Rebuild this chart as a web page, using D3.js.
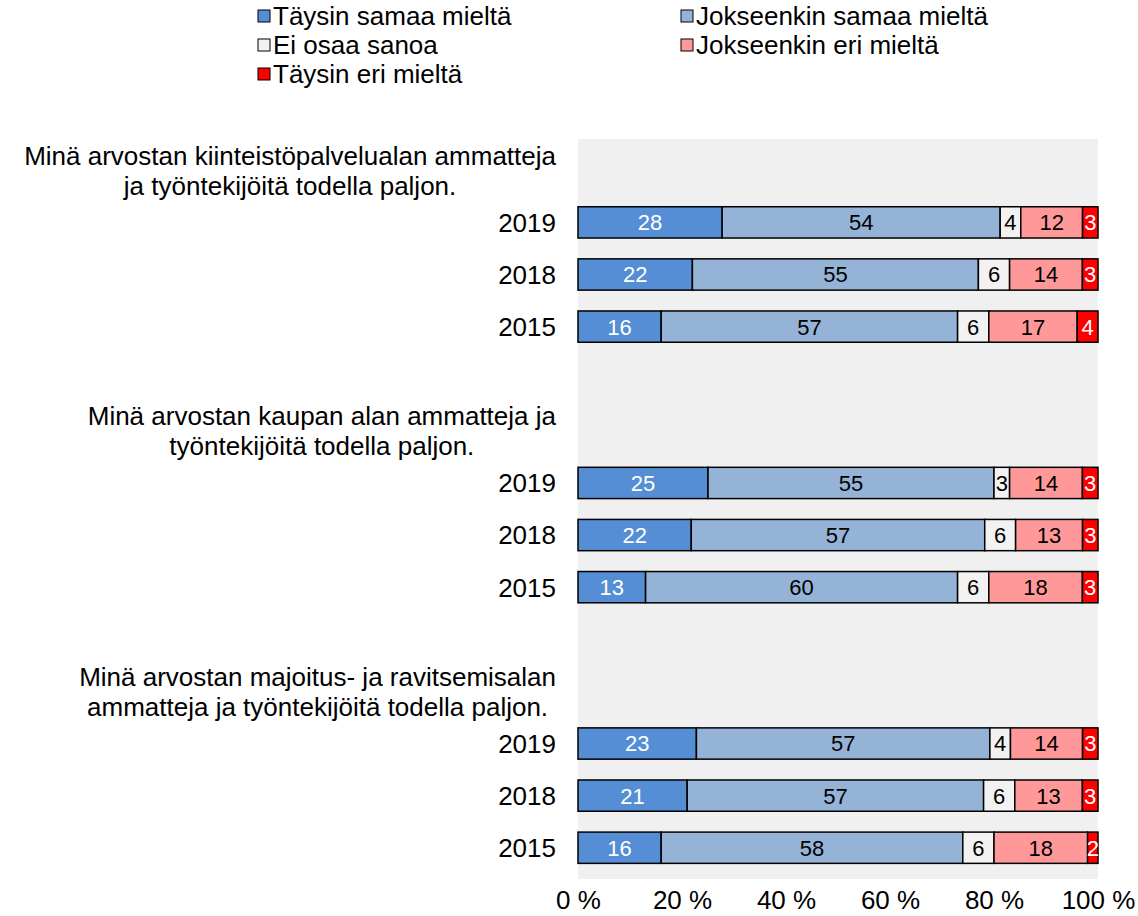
<!DOCTYPE html>
<html>
<head>
<meta charset="utf-8">
<script src="https://cdn.jsdelivr.net/npm/d3@7/dist/d3.min.js"></script>
<style>
  body { margin: 0; background: #fff; }
  svg text { font-family: Arial, "Liberation Sans", sans-serif; fill: #000; }
</style>
</head>
<body>
<svg id="chart" width="1138" height="916"></svg>
<script>
// answer categories (stack order, left to right)
var series = ["Täysin samaa mieltä", "Jokseenkin samaa mieltä", "Ei osaa sanoa",
              "Jokseenkin eri mieltä", "Täysin eri mieltä"];
var seriesColors = ["#558ED5", "#95B3D7", "#F2F2F2", "#FF9999", "#FF0000"];
var labelColors = ["#fff", "#000", "#000", "#000", "#fff"];

// statements, each split in two lines like in the original
var statements = [
    ["Minä arvostan kiinteistöpalvelualan ammatteja", "ja työntekijöitä todella paljon."],
    ["Minä arvostan kaupan alan ammatteja ja", "työntekijöitä todella paljon."],
    ["Minä arvostan majoitus- ja ravitsemisalan", "ammatteja ja työntekijöitä todella paljon."]
];
var years = ["2019", "2018", "2015"];

// values per year (2019, 2018, 2015), one number per answer category
var kiinteisto = [[28, 54, 4, 12, 3], [22, 55, 6, 14, 3], [16, 57, 6, 17, 4]];
var kauppa     = [[25, 55, 3, 14, 3], [22, 57, 6, 13, 3], [13, 60, 6, 18, 3]];
var majoitus   = [[23, 57, 4, 14, 3], [21, 57, 6, 13, 3], [16, 58, 6, 18, 2]];
var values = [kiinteisto, kauppa, majoitus];

var xTicks = [0, 20, 40, 60, 80, 100];

var svg = d3.select("#chart"),
    PLOT = {left: 578, right: 1098, top: 139, bottom: 879},
    LABEL_RIGHT = 556,
    FONT = "26px";

// row keys: title row, three years, spacer between groups
var rows = [];
statements.forEach(function (s, i) {
    rows.push("t" + i);
    years.forEach(function (y) { rows.push(i + "-" + y); });
    if (i < statements.length - 1) rows.push("gap" + i);
});

var x = d3.scaleLinear().domain([0, 100]).range([PLOT.left, PLOT.right]);
var y = d3.scaleBand().domain(rows).range([PLOT.top, PLOT.bottom])
    .paddingInner(0.4).paddingOuter(0.3);

svg.append("rect")
    .attr("x", PLOT.left).attr("y", PLOT.top)
    .attr("width", PLOT.right - PLOT.left).attr("height", PLOT.bottom - PLOT.top)
    .attr("fill", "#F0F0F0");

svg.append("clipPath").attr("id", "plotclip")
    .append("rect")
    .attr("x", PLOT.left - 2).attr("y", PLOT.top)
    .attr("width", PLOT.right - PLOT.left + 3).attr("height", PLOT.bottom - PLOT.top);

// flatten into bar rows, normalised to 100 %
var bars = [];
values.forEach(function (group, gi) {
    group.forEach(function (vals, yi) {
        var total = d3.sum(vals), acc = 0;
        var segs = vals.map(function (v, si) {
            var s = {v: v, si: si, x0: acc / total * 100, x1: (acc + v) / total * 100};
            acc += v;
            return s;
        });
        bars.push({key: gi + "-" + years[yi], year: years[yi], segs: segs});
    });
});

var barG = svg.append("g").attr("clip-path", "url(#plotclip)")
    .selectAll("g.bar")
    .data(bars)
    .enter().append("g")
    .attr("class", "bar")
    .attr("transform", function (d) { return "translate(0," + y(d.key) + ")"; });

barG.selectAll("rect")
    .data(function (d) { return d.segs; })
    .enter().append("rect")
    .attr("x", function (d) { return x(d.x0); })
    .attr("width", function (d) { return x(d.x1) - x(d.x0); })
    .attr("height", y.bandwidth())
    .attr("fill", function (d) { return seriesColors[d.si]; })
    .attr("stroke", "#000")
    .attr("stroke-width", 1.5);

barG.selectAll("text")
    .data(function (d) { return d.segs; })
    .enter().append("text")
    .attr("x", function (d) { return (x(d.x0) + x(d.x1)) / 2; })
    .attr("y", y.bandwidth() / 2)
    .attr("dy", "0.36em")
    .attr("text-anchor", "middle")
    .style("font-size", "22px")
    .style("fill", function (d) { return labelColors[d.si]; })
    .text(function (d) { return d.v; });

// year labels
svg.selectAll("text.year")
    .data(bars)
    .enter().append("text")
    .attr("class", "year")
    .attr("x", LABEL_RIGHT)
    .attr("y", function (d) { return y(d.key) + y.bandwidth() / 2; })
    .attr("dy", "0.36em")
    .attr("text-anchor", "end")
    .style("font-size", FONT)
    .text(function (d) { return d.year; });

// statement labels: centred lines, block aligned right
statements.forEach(function (lines, i) {
    var cy = y("t" + i) + y.bandwidth() / 2;
    var t = svg.append("text")
        .attr("text-anchor", "middle")
        .style("font-size", FONT);
    lines.forEach(function (line, li) {
        t.append("tspan").attr("y", cy + (li - 0.5) * 30).attr("dy", "0.36em").text(line);
    });
    var w = d3.max(t.selectAll("tspan").nodes(), function (n) { return n.getComputedTextLength(); });
    t.selectAll("tspan").attr("x", LABEL_RIGHT - w / 2);
});

// x axis labels
var xAxis = svg.append("g")
    .attr("transform", "translate(0," + PLOT.bottom + ")")
    .call(d3.axisBottom(x).tickValues(xTicks).tickSize(0).tickPadding(12)
        .tickFormat(function (d) { return d + " %"; }));
xAxis.select(".domain").remove();
xAxis.selectAll("text")
    .style("font-size", FONT)
    .style("font-family", "Arial, 'Liberation Sans', sans-serif")
    .attr("fill", "#000");

// legend, two columns
var legend = svg.append("g").selectAll("g")
    .data(series)
    .enter().append("g")
    .attr("transform", function (d, i) {
        return "translate(" + (i % 2 === 0 ? 258 : 681) + "," + (16 + Math.floor(i / 2) * 29) + ")";
    });
legend.append("rect")
    .attr("x", 0).attr("y", -6)
    .attr("width", 12).attr("height", 12)
    .attr("fill", function (d, i) { return seriesColors[i]; })
    .attr("stroke", "#000").attr("stroke-width", 1);
legend.append("text")
    .attr("x", 15)
    .attr("dy", "0.36em")
    .style("font-size", FONT)
    .text(function (d) { return d; });
</script>
</body>
</html>
